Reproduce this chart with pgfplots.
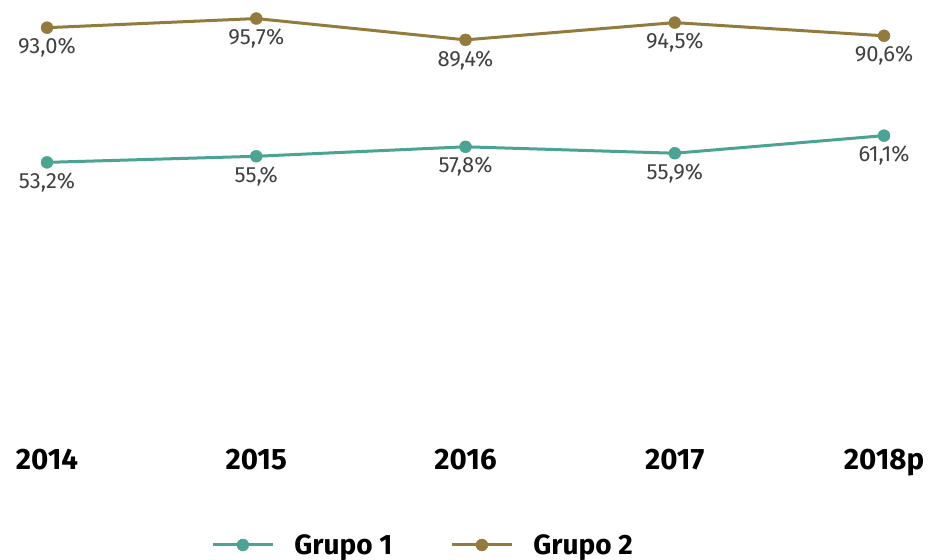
\documentclass[border=0pt]{standalone}
\usepackage{pgfplots}
\pgfplotsset{compat=1.18}
\usepackage{fontspec}
\setmainfont{Fira Sans}
\definecolor{gteal}{HTML}{4BA393}
\definecolor{golive}{HTML}{937B3D}
\definecolor{lbl}{HTML}{404040}
\begin{document}
\begin{tikzpicture}
\begin{axis}[
 scale only axis, width=933pt, height=440pt,
 xmin=-0.2246, xmax=4.234, ymin=-28.84, ymax=101.18,
 axis line style={draw=none}, tick style={draw=none},
 ytick=\empty,
 xtick={0,1,2,3,4}, xticklabels={2014,2015,2016,2017,2018p},
 xticklabel style={font=\fontsize{29.5}{32}\selectfont\bfseries, text=black, anchor=north, inner sep=0pt, yshift=-9pt},
 clip=false,
 legend columns=2,
 legend style={at={(0.4535,-0.2386)}, anchor=center, draw=none, fill=none, font=\fontsize{28}{32}\selectfont\bfseries,
   /tikz/every odd column/.append style={column sep=18pt},
   /tikz/every even column/.append style={column sep=56pt}},
 legend image code/.code={\draw[mark repeat=2,mark phase=2,#1] plot coordinates {(0pt,0pt)(30pt,0pt)(60pt,0pt)};},
 every node near coord/.append style={font=\fontsize{22}{26}\selectfont, text=lbl, anchor=north, yshift=-7pt},
 nodes near coords, point meta=explicit symbolic,
]
\addplot[color=gteal, line width=3pt, mark=*, mark size=6pt, mark options={fill=gteal, draw=gteal, line width=0.4pt}]
 coordinates {(0,53.2)[53,2\%] (1,55.0)[55,\%] (2,57.8)[57,8\%] (3,55.9)[55,9\%] (4,61.1)[61,1\%]};
\addlegendentry{Grupo 1}
\addplot[color=golive, line width=3pt, mark=*, mark size=6pt, mark options={fill=golive, draw=golive, line width=0.4pt}]
 coordinates {(0,93.0)[93,0\%] (1,95.7)[95,7\%] (2,89.4)[89,4\%] (3,94.5)[94,5\%] (4,90.6)[90,6\%]};
\addlegendentry{Grupo 2}
\end{axis}
\path[use as bounding box] ([yshift=-120pt]current axis.south west) rectangle (current axis.north east);
\end{tikzpicture}
\end{document}
